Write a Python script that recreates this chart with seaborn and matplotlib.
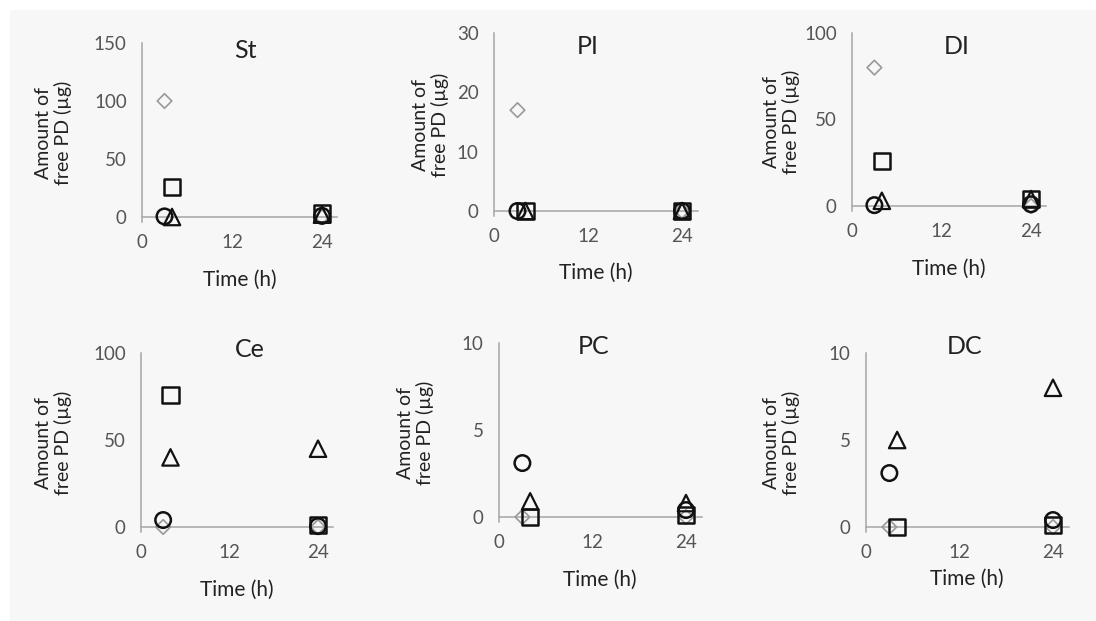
import numpy as np
import pandas as pd
import seaborn as sns
import matplotlib.pyplot as plt
from matplotlib.patches import Rectangle

# DATA (free PD, µg)
panels = ["St", "PI", "DI", "Ce", "PC", "DC"]
times = [3, 24]
series = ["circle", "square", "triangle", "diamond"]
early_time = {"circle": 3, "square": 4, "triangle": 4, "diamond": 3}

circle_3h = [0.5, 0, 0.5, 4, 3.1, 3.1]
circle_24h = [1, 0, 1, 0.5, 0.4, 0.4]
square_3h = [26, 0, 26, 76, 0, 0]
square_24h = [3, 0, 4, 1, 0.1, 0.1]
triangle_3h = [0, 0, 3, 40, 0.9, 5]
triangle_24h = [2, 0, 4, 45, 0.8, 8]
diamond_3h = [100, 17, 80, 0, 0, 0]
diamond_24h = [0, 0, 0, 0, 0, 0]

y_tops = [150, 30, 100, 100, 10, 10]
y_ticks = [[0, 50, 100, 150], [0, 10, 20, 30], [0, 50, 100],
           [0, 50, 100], [0, 5, 10], [0, 5, 10]]
x_ticks = [0, 12, 24]

rows = []
vals = {"circle": (circle_3h, circle_24h), "square": (square_3h, square_24h),
        "triangle": (triangle_3h, triangle_24h), "diamond": (diamond_3h, diamond_24h)}
for s in series:
    early, late = vals[s]
    for i, p in enumerate(panels):
        rows.append({"panel": p, "series": s, "time": early_time[s], "amount": early[i]})
        rows.append({"panel": p, "series": s, "time": times[1], "amount": late[i]})
df = pd.DataFrame(rows)

# STYLE
sns.set_theme(style="white")
plt.rcParams["font.family"] = ["Lato", "DejaVu Sans"]

markers = {"circle": "o", "square": "s", "triangle": "^", "diamond": "D"}
edge = {"circle": "#111111", "square": "#111111", "triangle": "#111111", "diamond": "#999999"}
sizes = {"circle": 125, "square": 140, "triangle": 140, "diamond": 55}
lws = {"circle": 1.8, "square": 1.8, "triangle": 1.6, "diamond": 1.2}

W, H = 1096, 621
fig = plt.figure(figsize=(W / 100, H / 100), dpi=100)
fig.patch.set_facecolor("white")
fig.patches.append(Rectangle((10 / W, 0), 1 - 10 / W, 1 - 10 / H, transform=fig.transFigure,
                             fc="#f7f7f7", ec="none", zorder=-10))

# pixel layout: left (x=0), x=24, y=0, y=top
layout = [(142, 322, 217, 43), (494, 682, 211, 33), (852, 1031, 206, 33),
          (141, 318, 527, 353), (499, 686, 517, 343), (866, 1053, 527, 353)]
title_px = [(245, 50), (588, 47), (957, 47), (250, 350), (594, 347), (965, 347)]
ylabel_right_px = [72, 449, 800, 72, 434, 800]
xlabel_pad = [14, 13, 14, 14, 14, 6]
xmax = 26
ypad = 0.03

for i, p in enumerate(panels):
    x0, x24, y0, yt = layout[i]
    pph = (x24 - x0) / 24
    right = x0 + xmax * pph
    ybot = y0 + ypad * (y0 - yt)
    ax = fig.add_axes([x0 / W, 1 - ybot / H, (right - x0) / W, (ybot - yt) / H])
    ax.set_facecolor("none")
    sub = df[df["panel"] == p]
    for s in ["diamond", "circle", "triangle", "square"]:
        d = sub[sub["series"] == s]
        sns.scatterplot(data=d, x="time", y="amount", marker=markers[s], s=sizes[s],
                        facecolors="none", edgecolors=edge[s], linewidth=lws[s],
                        ax=ax, clip_on=False, zorder=3, legend=False)
    ax.set_xlim(0, xmax)
    ax.set_ylim(-ypad * y_tops[i], y_tops[i])
    ax.set_xticks(x_ticks)
    ax.set_yticks(y_ticks[i])
    for side in ["top", "right"]:
        ax.spines[side].set_visible(False)
    ax.spines["bottom"].set_position(("data", 0))
    for side in ["left", "bottom"]:
        ax.spines[side].set_color("#a6a6a6")
        ax.spines[side].set_linewidth(1.1)
    ax.tick_params(axis="both", direction="out", length=3, width=1, color="#a6a6a6",
                   labelsize=13.5, labelcolor="#555555")
    ax.tick_params(axis="y", pad=8)
    ax.tick_params(axis="x", pad=9)
    ax.set_xlabel("Time (h)", fontsize=15, color="#222222", labelpad=xlabel_pad[i])
    ax.set_ylabel("Amount of\nfree PD (µg)", fontsize=14, color="#222222",
                  linespacing=1.1)
    ax.yaxis.set_label_coords((ylabel_right_px[i] - x0) / (right - x0), 0.5)
    tx, ty = title_px[i]
    fig.text(tx / W, 1 - ty / H, p, ha="center", va="center",
             fontsize=18, color="#222222")

fig.savefig("out.png", dpi=100, facecolor=fig.get_facecolor())
